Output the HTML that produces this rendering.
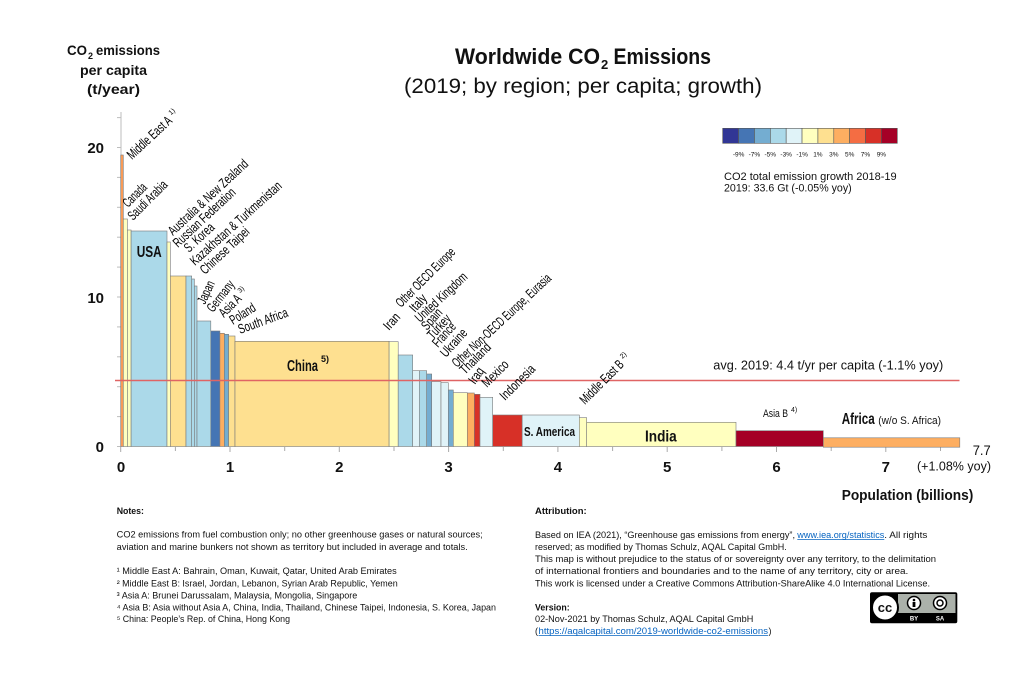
<!DOCTYPE html>
<html><head><meta charset="utf-8"><style>
html,body{margin:0;padding:0;background:#fff;}
svg{display:block;}
text{font-family:"Liberation Sans",sans-serif;fill:#111;}
.lb text{fill:#000;}
.b{font-weight:bold;}
.n{font-size:9px;}
</style></head><body>
<svg width="1024" height="682" viewBox="0 0 1024 682" xmlns="http://www.w3.org/2000/svg">
<rect width="1024" height="682" fill="#fff"/>

<!-- Title -->
<text x="455" y="64" font-size="22" class="b" textLength="145" lengthAdjust="spacingAndGlyphs">Worldwide CO</text>
<text x="601" y="69" font-size="13" class="b">2</text>
<text x="613.5" y="64" font-size="22" class="b" textLength="97.5" lengthAdjust="spacingAndGlyphs">Emissions</text>
<text x="404" y="93" font-size="21" textLength="358" lengthAdjust="spacingAndGlyphs">(2019; by region; per capita; growth)</text>

<!-- Y axis title -->
<text x="67" y="55" font-size="14" class="b" textLength="20" lengthAdjust="spacingAndGlyphs">CO</text>
<text x="88" y="59" font-size="9" class="b">2</text>
<text x="96" y="55" font-size="14" class="b" textLength="64" lengthAdjust="spacingAndGlyphs">emissions</text>
<text x="80" y="75" font-size="14" class="b" textLength="67" lengthAdjust="spacingAndGlyphs">per capita</text>
<text x="87" y="94" font-size="14" class="b" textLength="53" lengthAdjust="spacingAndGlyphs">(t/year)</text>

<!-- Y axis -->
<g stroke="#bdbdbd" stroke-width="1">
<line x1="121" y1="112" x2="121" y2="447"/>
<line x1="117" y1="446.5" x2="121" y2="446.5"/>
<line x1="117" y1="416.6" x2="121" y2="416.6"/>
<line x1="117" y1="386.7" x2="121" y2="386.7"/>
<line x1="117" y1="356.8" x2="121" y2="356.8"/>
<line x1="117" y1="326.9" x2="121" y2="326.9"/>
<line x1="117" y1="297" x2="121" y2="297"/>
<line x1="117" y1="267.1" x2="121" y2="267.1"/>
<line x1="117" y1="237.2" x2="121" y2="237.2"/>
<line x1="117" y1="207.3" x2="121" y2="207.3"/>
<line x1="117" y1="177.4" x2="121" y2="177.4"/>
<line x1="117" y1="147.5" x2="121" y2="147.5"/>
<line x1="117" y1="117.6" x2="121" y2="117.6"/>
</g>
<text x="104" y="153" font-size="15" class="b" text-anchor="end">20</text>
<text x="104" y="303" font-size="15" class="b" text-anchor="end">10</text>
<text x="104" y="452" font-size="15" class="b" text-anchor="end">0</text>

<!-- X axis ticks -->
<g stroke="#aaaaaa" stroke-width="1">
<line x1="120.7" y1="447" x2="120.7" y2="452"/>
<line x1="175.4" y1="447" x2="175.4" y2="451"/>
<line x1="230" y1="447" x2="230" y2="452"/>
<line x1="284.7" y1="447" x2="284.7" y2="451"/>
<line x1="339.3" y1="447" x2="339.3" y2="452"/>
<line x1="394" y1="447" x2="394" y2="451"/>
<line x1="448.6" y1="447" x2="448.6" y2="452"/>
<line x1="503.3" y1="447" x2="503.3" y2="451"/>
<line x1="557.9" y1="447" x2="557.9" y2="452"/>
<line x1="612.6" y1="447" x2="612.6" y2="451"/>
<line x1="667.2" y1="447" x2="667.2" y2="452"/>
<line x1="721.9" y1="447" x2="721.9" y2="451"/>
<line x1="776.5" y1="447" x2="776.5" y2="452"/>
<line x1="831.2" y1="447" x2="831.2" y2="451"/>
<line x1="885.8" y1="447" x2="885.8" y2="452"/>
<line x1="940.5" y1="447" x2="940.5" y2="451"/>
</g>
<g font-size="15" font-weight="bold" text-anchor="middle">
<text x="121" y="472">0</text>
<text x="230" y="472">1</text>
<text x="339.3" y="472">2</text>
<text x="448.6" y="472">3</text>
<text x="557.9" y="472">4</text>
<text x="667.2" y="472">5</text>
<text x="776.5" y="472">6</text>
<text x="885.8" y="472">7</text>
</g>

<!-- Bars -->
<g stroke="#7a7a7a" stroke-width="0.6">
<rect x="120.7" y="155" width="2.6" height="291.5" fill="#f79a57"/>
<rect x="123.3" y="219" width="4.1" height="227.5" fill="#ffffbf"/>
<rect x="127.4" y="230" width="3.7" height="216.5" fill="#ffffbf"/>
<rect x="131.1" y="231" width="35.9" height="215.5" fill="#abd9e9"/>
<rect x="167" y="242" width="3.3" height="204.5" fill="#ffffbf"/>
<rect x="170.3" y="276" width="15.7" height="170.5" fill="#fee090"/>
<rect x="186" y="276" width="5.7" height="170.5" fill="#abd9e9"/>
<rect x="191.7" y="279" width="2.7" height="167.5" fill="#abd9e9"/>
<rect x="194.4" y="286" width="2.6" height="160.5" fill="#abd9e9"/>
<rect x="197" y="321" width="13.8" height="125.5" fill="#abd9e9"/>
<rect x="210.8" y="331" width="9.1" height="115.5" fill="#4575b4"/>
<rect x="219.9" y="333.3" width="4.5" height="113.2" fill="#fdae61"/>
<rect x="224.4" y="334.3" width="4.2" height="112.2" fill="#74add1"/>
<rect x="228.6" y="336" width="6.4" height="110.5" fill="#fee090"/>
<rect x="235" y="341.3" width="154.1" height="105.2" fill="#fee090"/>
<rect x="389.1" y="341.7" width="9.1" height="104.8" fill="#ffffbf"/>
<rect x="398.2" y="355" width="14.5" height="91.5" fill="#abd9e9"/>
<rect x="412.7" y="370.7" width="6.6" height="75.8" fill="#e0f3f8"/>
<rect x="419.3" y="370.7" width="7.4" height="75.8" fill="#abd9e9"/>
<rect x="426.7" y="374" width="5" height="72.5" fill="#74add1"/>
<rect x="431.7" y="381.7" width="9.3" height="64.8" fill="#e0f3f8"/>
<rect x="441" y="382.7" width="7.3" height="63.8" fill="#e0f3f8"/>
<rect x="448.3" y="390" width="5" height="56.5" fill="#74add1"/>
<rect x="453.3" y="392.7" width="14" height="53.8" fill="#ffffbf"/>
<rect x="467.3" y="393" width="7" height="53.5" fill="#fdae61"/>
<rect x="474.3" y="394.3" width="5.7" height="52.2" fill="#d73027"/>
<rect x="480" y="397.3" width="12.7" height="49.2" fill="#e0f3f8"/>
<rect x="492.7" y="415" width="29.5" height="31.5" fill="#d73027"/>
<rect x="522.2" y="415" width="57.1" height="31.5" fill="#e0f3f8"/>
<rect x="579.3" y="417.7" width="7.4" height="28.8" fill="#ffffbf"/>
<rect x="586.7" y="422.3" width="149.3" height="24.2" fill="#ffffbf"/>
<rect x="736" y="430.7" width="87.3" height="15.8" fill="#a50026"/>
<rect x="823.3" y="437.8" width="136.5" height="9.4" fill="#fdae61"/>
</g>

<!-- average line -->
<line x1="115" y1="380.5" x2="959.5" y2="380.5" stroke="#e06464" stroke-width="1.6"/>
<text x="713.3" y="369.5" font-size="12.5" textLength="230" lengthAdjust="spacingAndGlyphs">avg. 2019: 4.4 t/yr per capita (-1.1% yoy)</text>

<!-- in-bar labels -->
<text x="136.7" y="257" font-size="16" class="b" textLength="25" lengthAdjust="spacingAndGlyphs">USA</text>
<text x="287" y="371" font-size="16" class="b" textLength="31" lengthAdjust="spacingAndGlyphs">China</text>
<text x="321" y="362" font-size="9" class="b">5)</text>
<text x="524" y="436" font-size="13" class="b" textLength="51" lengthAdjust="spacingAndGlyphs">S. America</text>
<text x="645" y="441.7" font-size="15.5" class="b" textLength="31.7" lengthAdjust="spacingAndGlyphs">India</text>
<text x="763" y="417" font-size="11" textLength="25" lengthAdjust="spacingAndGlyphs">Asia B</text>
<text x="791" y="412" font-size="7">4)</text>
<text x="841.7" y="424" font-size="15.5" class="b" textLength="33" lengthAdjust="spacingAndGlyphs">Africa</text>
<text x="878.3" y="424" font-size="11" textLength="62.7" lengthAdjust="spacingAndGlyphs">(w/o S. Africa)</text>

<!-- rotated labels -->
<g class="lb" font-size="13.5">
<g transform="translate(132,160) rotate(-43)"><text textLength="56" lengthAdjust="spacingAndGlyphs">Middle East A</text><text x="59" y="-6" font-size="7">1)</text></g>
<g transform="translate(128,208) rotate(-45)"><text textLength="28" lengthAdjust="spacingAndGlyphs">Canada</text></g>
<g transform="translate(133,221) rotate(-45)"><text textLength="50" lengthAdjust="spacingAndGlyphs">Saudi Arabia</text></g>
<g transform="translate(173,236) rotate(-43)"><text textLength="104" lengthAdjust="spacingAndGlyphs">Australia &amp; New Zealand</text></g>
<g transform="translate(178,248) rotate(-43)"><text textLength="80" lengthAdjust="spacingAndGlyphs">Russian Federation</text></g>
<g transform="translate(189,253) rotate(-43)"><text textLength="36" lengthAdjust="spacingAndGlyphs">S. Korea</text></g>
<g transform="translate(195,266) rotate(-42)"><text textLength="118" lengthAdjust="spacingAndGlyphs">Kazakhstan &amp; Turkmenistan</text></g>
<g transform="translate(205,275) rotate(-43)"><text textLength="62" lengthAdjust="spacingAndGlyphs">Chinese Taipei</text></g>
<g transform="translate(205,305) rotate(-65)"><text textLength="24" lengthAdjust="spacingAndGlyphs">Japan</text></g>
<g transform="translate(213,313) rotate(-52)"><text textLength="36" lengthAdjust="spacingAndGlyphs">Germany</text></g>
<g transform="translate(224,318) rotate(-45)"><text textLength="26" lengthAdjust="spacingAndGlyphs">Asia A</text><text x="29" y="-6" font-size="7">3)</text></g>
<g transform="translate(233,325) rotate(-32)"><text textLength="28" lengthAdjust="spacingAndGlyphs">Poland</text></g>
<g transform="translate(240,334) rotate(-20)"><text textLength="52" lengthAdjust="spacingAndGlyphs">South Africa</text></g>

<g transform="translate(389,331) rotate(-48)"><text textLength="18" lengthAdjust="spacingAndGlyphs">Iran</text></g>
<g transform="translate(401,308) rotate(-45)"><text textLength="78" lengthAdjust="spacingAndGlyphs">Other OECD Europe</text></g>
<g transform="translate(415,313) rotate(-48)"><text textLength="19" lengthAdjust="spacingAndGlyphs">Italy</text></g>
<g transform="translate(420,323) rotate(-43)"><text textLength="66" lengthAdjust="spacingAndGlyphs">United Kingdom</text></g>
<g transform="translate(427,331) rotate(-48)"><text textLength="24" lengthAdjust="spacingAndGlyphs">Spain</text></g>
<g transform="translate(433,340) rotate(-48)"><text textLength="28" lengthAdjust="spacingAndGlyphs">Turkey</text></g>
<g transform="translate(438,348) rotate(-48)"><text textLength="28" lengthAdjust="spacingAndGlyphs">France</text></g>
<g transform="translate(446,358) rotate(-48)"><text textLength="33" lengthAdjust="spacingAndGlyphs">Ukraine</text></g>
<g transform="translate(457,368) rotate(-43)"><text textLength="130" lengthAdjust="spacingAndGlyphs">Other Non-OECD Europe, Eurasia</text></g>
<g transform="translate(465,375) rotate(-45)"><text textLength="38" lengthAdjust="spacingAndGlyphs">Thailand</text></g>
<g transform="translate(475,385) rotate(-55)"><text textLength="17" lengthAdjust="spacingAndGlyphs">Iraq</text></g>
<g transform="translate(487,388) rotate(-45)"><text textLength="32" lengthAdjust="spacingAndGlyphs">Mexico</text></g>
<g transform="translate(505,401) rotate(-45)"><text textLength="44" lengthAdjust="spacingAndGlyphs">Indonesia</text></g>
<g transform="translate(585,405) rotate(-45)"><text textLength="56" lengthAdjust="spacingAndGlyphs">Middle East B</text><text x="59" y="-6" font-size="7">2)</text></g>
</g>

<!-- totals -->
<text x="972.7" y="455" font-size="14" textLength="18" lengthAdjust="spacingAndGlyphs">7.7</text>
<text x="917" y="470.5" font-size="13" textLength="74" lengthAdjust="spacingAndGlyphs">(+1.08% yoy)</text>
<text x="841.7" y="500" font-size="15" class="b" textLength="131.6" lengthAdjust="spacingAndGlyphs">Population (billions)</text>

<!-- Color legend -->
<g stroke="#555" stroke-width="0.6">
<rect x="722.7" y="128.3" width="15.87" height="15" fill="#313695"/>
<rect x="738.57" y="128.3" width="15.87" height="15" fill="#4575b4"/>
<rect x="754.44" y="128.3" width="15.87" height="15" fill="#74add1"/>
<rect x="770.31" y="128.3" width="15.87" height="15" fill="#abd9e9"/>
<rect x="786.18" y="128.3" width="15.87" height="15" fill="#e0f3f8"/>
<rect x="802.05" y="128.3" width="15.87" height="15" fill="#ffffbf"/>
<rect x="817.92" y="128.3" width="15.87" height="15" fill="#fee090"/>
<rect x="833.79" y="128.3" width="15.87" height="15" fill="#fdae61"/>
<rect x="849.66" y="128.3" width="15.87" height="15" fill="#f46d43"/>
<rect x="865.53" y="128.3" width="15.87" height="15" fill="#d73027"/>
<rect x="881.4" y="128.3" width="15.9" height="15" fill="#a50026"/>
</g>
<g font-size="6.5" text-anchor="middle">
<text x="738.6" y="156.5">-9%</text>
<text x="754.4" y="156.5">-7%</text>
<text x="770.3" y="156.5">-5%</text>
<text x="786.2" y="156.5">-3%</text>
<text x="802.1" y="156.5">-1%</text>
<text x="817.9" y="156.5">1%</text>
<text x="833.8" y="156.5">3%</text>
<text x="849.7" y="156.5">5%</text>
<text x="865.5" y="156.5">7%</text>
<text x="881.4" y="156.5">9%</text>
</g>
<text x="724" y="180" font-size="11" textLength="172.7" lengthAdjust="spacingAndGlyphs">CO2 total emission growth 2018-19</text>
<text x="724" y="191.5" font-size="11" textLength="127.7" lengthAdjust="spacingAndGlyphs">2019: 33.6 Gt (-0.05% yoy)</text>

<!-- Notes -->
<text x="116.7" y="514" class="n b" textLength="27.3" lengthAdjust="spacingAndGlyphs">Notes:</text>
<text x="116.7" y="537.5" class="n" textLength="366" lengthAdjust="spacingAndGlyphs">CO2 emissions from fuel combustion only; no other greenhouse gases or natural sources;</text>
<text x="116.7" y="550" class="n" textLength="351" lengthAdjust="spacingAndGlyphs">aviation and marine bunkers not shown as territory but included in average and totals.</text>
<text x="116.7" y="574" class="n" textLength="280" lengthAdjust="spacingAndGlyphs">¹ Middle East A: Bahrain, Oman, Kuwait, Qatar, United Arab Emirates</text>
<text x="116.7" y="586.5" class="n" textLength="281" lengthAdjust="spacingAndGlyphs">² Middle East B: Israel, Jordan, Lebanon, Syrian Arab Republic, Yemen</text>
<text x="116.7" y="598.5" class="n" textLength="240.6" lengthAdjust="spacingAndGlyphs">³ Asia A: Brunei Darussalam, Malaysia, Mongolia, Singapore</text>
<text x="116.7" y="610.5" class="n" textLength="379.3" lengthAdjust="spacingAndGlyphs">⁴ Asia B: Asia without Asia A, China, India, Thailand, Chinese Taipei, Indonesia, S. Korea, Japan</text>
<text x="116.7" y="622" class="n" textLength="173.3" lengthAdjust="spacingAndGlyphs">⁵ China: People’s Rep. of China, Hong Kong</text>

<!-- Attribution -->
<text x="535" y="514" class="n b" textLength="51.7" lengthAdjust="spacingAndGlyphs">Attribution:</text>
<text x="535" y="538" class="n" textLength="260" lengthAdjust="spacingAndGlyphs">Based on IEA (2021), “Greenhouse gas emissions from energy”,</text>
<text x="797.3" y="538" class="n" style="fill:#0563c1" textLength="87" lengthAdjust="spacingAndGlyphs">www.iea.org/statistics</text>
<line x1="797.3" y1="539.5" x2="884.3" y2="539.5" stroke="#0563c1" stroke-width="0.7"/>
<text x="884.3" y="538" class="n" textLength="43" lengthAdjust="spacingAndGlyphs">. All rights</text>
<text x="535" y="550" class="n" textLength="251.7" lengthAdjust="spacingAndGlyphs">reserved; as modified by Thomas Schulz, AQAL Capital GmbH.</text>
<text x="535" y="562" class="n" textLength="401" lengthAdjust="spacingAndGlyphs">This map is without prejudice to the status of or sovereignty over any territory, to the delimitation</text>
<text x="535" y="574" class="n" textLength="373.3" lengthAdjust="spacingAndGlyphs">of international frontiers and boundaries and to the name of any territory, city or area.</text>
<text x="535" y="586.5" class="n" textLength="395" lengthAdjust="spacingAndGlyphs">This work is licensed under a Creative Commons Attribution-ShareAlike 4.0 International License.</text>
<text x="535" y="610.5" class="n b" textLength="34.7" lengthAdjust="spacingAndGlyphs">Version:</text>
<text x="535" y="622" class="n" textLength="218.3" lengthAdjust="spacingAndGlyphs">02-Nov-2021 by Thomas Schulz, AQAL Capital GmbH</text>
<text x="535" y="634" class="n" textLength="3" lengthAdjust="spacingAndGlyphs">(</text>
<text x="538.5" y="634" class="n" style="fill:#0563c1" textLength="229.5" lengthAdjust="spacingAndGlyphs">https://aqalcapital.com/2019-worldwide-co2-emissions</text>
<line x1="538.5" y1="635.5" x2="768" y2="635.5" stroke="#0563c1" stroke-width="0.7"/>
<text x="768.5" y="634" class="n" textLength="3" lengthAdjust="spacingAndGlyphs">)</text>

<!-- CC badge -->
<rect x="870" y="592.3" width="87.3" height="31" rx="2" fill="#000"/>
<rect x="898" y="594" width="57.5" height="19" fill="#abb1aa"/>
<circle cx="885" cy="607.5" r="13" fill="#fff" stroke="#000" stroke-width="2"/>
<text x="885" y="612" font-size="13" class="b" text-anchor="middle">cc</text>
<circle cx="914" cy="603" r="6.5" fill="#fff" stroke="#000" stroke-width="1.5"/>
<circle cx="914" cy="600" r="1.3" fill="#000"/>
<rect x="912.6" y="602" width="2.8" height="5" fill="#000"/>
<circle cx="940" cy="603" r="6.5" fill="#fff" stroke="#000" stroke-width="1.5"/>
<circle cx="940" cy="603" r="3" fill="none" stroke="#000" stroke-width="1.5"/>
<text x="914" y="620.5" font-size="6" class="b" text-anchor="middle" style="fill:#fff">BY</text>
<text x="940" y="620.5" font-size="6" class="b" text-anchor="middle" style="fill:#fff">SA</text>
</svg>
</body></html>
